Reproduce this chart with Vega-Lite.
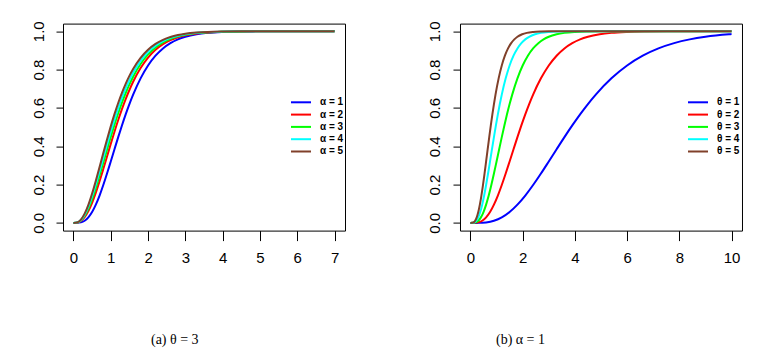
{
  "$schema": "https://vega.github.io/schema/vega-lite/v6.json",
  "background": "white",
  "padding": {"left": 12, "top": 19.6, "right": 0, "bottom": 0},
  "autosize": {"type": "pad"},
  "config": {
    "view": {"stroke": "#000", "strokeWidth": 1},
    "concat": {"spacing": 63},
    "axis": {"grid": false, "domain": false, "tickColor": "#000", "labelFont": "Liberation Sans", "labelFontSize": 15, "labelColor": "#000", "title": null, "labelBaseline": "alphabetic"},
    "axisX": {"tickSize": 10, "labelPadding": 22, "minExtent": 40, "maxExtent": 40},
    "axisY": {"tickSize": 7, "labelPadding": 13, "labelAngle": -90, "labelAlign": "center", "minExtent": 50, "maxExtent": 50, "format": ".1f"},
    "legend": {"orient": "none", "legendX": 233, "legendY": 73.7, "title": null, "symbolType": "M-2.5,0H2.5", "symbolSize": 64, "symbolStrokeWidth": 2, "labelFont": "Liberation Sans", "labelFontWeight": "bold", "labelFontSize": 10, "labelColor": "#000", "labelOffset": 14, "rowPadding": 2.3, "padding": 0},
    "title": {"orient": "bottom", "anchor": "start", "frame": "group", "font": "Liberation Serif", "fontSize": 14, "fontWeight": "normal", "color": "#000", "baseline": "alphabetic", "offset": 62}
  },
  "resolve": {"scale": {"color": "independent"}},
  "hconcat": [
    {
      "width": 282,
      "height": 207,
      "title": {"text": "(a)  θ = 3", "dx": 88},
      "data": {"values": [
        {"s":"α = 1","x":0,"y":0},{"s":"α = 1","x":0.1,"y":0.0003},{"s":"α = 1","x":0.2,"y":0.0028},{"s":"α = 1","x":0.3,"y":0.0114},{"s":"α = 1","x":0.4,"y":0.029},{"s":"α = 1","x":0.5,"y":0.0569},{"s":"α = 1","x":0.6,"y":0.0954},{"s":"α = 1","x":0.7,"y":0.1429},{"s":"α = 1","x":0.8,"y":0.1977},{"s":"α = 1","x":0.9,"y":0.2577},{"s":"α = 1","x":1.0,"y":0.3208},{"s":"α = 1","x":1.1,"y":0.3846},{"s":"α = 1","x":1.2,"y":0.4478},{"s":"α = 1","x":1.3,"y":0.5087},{"s":"α = 1","x":1.4,"y":0.5665},{"s":"α = 1","x":1.5,"y":0.6202},{"s":"α = 1","x":1.6,"y":0.6695},{"s":"α = 1","x":1.8,"y":0.7544},{"s":"α = 1","x":2.0,"y":0.8214},{"s":"α = 1","x":2.2,"y":0.8725},{"s":"α = 1","x":2.4,"y":0.9105},{"s":"α = 1","x":2.6,"y":0.938},{"s":"α = 1","x":2.8,"y":0.9576},{"s":"α = 1","x":3.0,"y":0.9713},{"s":"α = 1","x":3.3,"y":0.9843},{"s":"α = 1","x":3.6,"y":0.9916},{"s":"α = 1","x":4.0,"y":0.9964},{"s":"α = 1","x":4.5,"y":0.9988},{"s":"α = 1","x":5,"y":0.9996},{"s":"α = 1","x":6,"y":1},{"s":"α = 1","x":7,"y":1},
        {"s":"α = 2","x":0,"y":0},{"s":"α = 2","x":0.1,"y":0.0015},{"s":"α = 2","x":0.2,"y":0.0101},{"s":"α = 2","x":0.3,"y":0.0299},{"s":"α = 2","x":0.4,"y":0.0619},{"s":"α = 2","x":0.5,"y":0.1052},{"s":"α = 2","x":0.6,"y":0.1578},{"s":"α = 2","x":0.7,"y":0.2174},{"s":"α = 2","x":0.8,"y":0.2811},{"s":"α = 2","x":0.9,"y":0.3467},{"s":"α = 2","x":1.0,"y":0.4124},{"s":"α = 2","x":1.1,"y":0.4761},{"s":"α = 2","x":1.2,"y":0.5369},{"s":"α = 2","x":1.3,"y":0.5937},{"s":"α = 2","x":1.4,"y":0.6461},{"s":"α = 2","x":1.5,"y":0.6936},{"s":"α = 2","x":1.6,"y":0.7364},{"s":"α = 2","x":1.8,"y":0.8079},{"s":"α = 2","x":2.0,"y":0.8627},{"s":"α = 2","x":2.2,"y":0.9034},{"s":"α = 2","x":2.4,"y":0.933},{"s":"α = 2","x":2.6,"y":0.9541},{"s":"α = 2","x":2.8,"y":0.9689},{"s":"α = 2","x":3.0,"y":0.9792},{"s":"α = 2","x":3.3,"y":0.9887},{"s":"α = 2","x":3.6,"y":0.994},{"s":"α = 2","x":4.0,"y":0.9975},{"s":"α = 2","x":4.5,"y":0.9992},{"s":"α = 2","x":5,"y":0.9998},{"s":"α = 2","x":6,"y":1},{"s":"α = 2","x":7,"y":1},
        {"s":"α = 3","x":0,"y":0},{"s":"α = 3","x":0.1,"y":0.002},{"s":"α = 3","x":0.2,"y":0.013},{"s":"α = 3","x":0.3,"y":0.0373},{"s":"α = 3","x":0.4,"y":0.075},{"s":"α = 3","x":0.5,"y":0.1245},{"s":"α = 3","x":0.6,"y":0.1828},{"s":"α = 3","x":0.7,"y":0.2471},{"s":"α = 3","x":0.8,"y":0.3145},{"s":"α = 3","x":0.9,"y":0.3823},{"s":"α = 3","x":1.0,"y":0.449},{"s":"α = 3","x":1.1,"y":0.5127},{"s":"α = 3","x":1.2,"y":0.5725},{"s":"α = 3","x":1.3,"y":0.6276},{"s":"α = 3","x":1.4,"y":0.6779},{"s":"α = 3","x":1.5,"y":0.723},{"s":"α = 3","x":1.6,"y":0.7631},{"s":"α = 3","x":1.8,"y":0.8293},{"s":"α = 3","x":2.0,"y":0.8792},{"s":"α = 3","x":2.2,"y":0.9158},{"s":"α = 3","x":2.4,"y":0.942},{"s":"α = 3","x":2.6,"y":0.9605},{"s":"α = 3","x":2.8,"y":0.9734},{"s":"α = 3","x":3.0,"y":0.9823},{"s":"α = 3","x":3.3,"y":0.9905},{"s":"α = 3","x":3.6,"y":0.995},{"s":"α = 3","x":4.0,"y":0.9979},{"s":"α = 3","x":4.5,"y":0.9994},{"s":"α = 3","x":5,"y":0.9998},{"s":"α = 3","x":6,"y":1},{"s":"α = 3","x":7,"y":1},
        {"s":"α = 4","x":0,"y":0},{"s":"α = 4","x":0.1,"y":0.0023},{"s":"α = 4","x":0.2,"y":0.0152},{"s":"α = 4","x":0.3,"y":0.0429},{"s":"α = 4","x":0.4,"y":0.0848},{"s":"α = 4","x":0.5,"y":0.139},{"s":"α = 4","x":0.6,"y":0.2015},{"s":"α = 4","x":0.7,"y":0.2695},{"s":"α = 4","x":0.8,"y":0.3395},{"s":"α = 4","x":0.9,"y":0.409},{"s":"α = 4","x":1.0,"y":0.4764},{"s":"α = 4","x":1.1,"y":0.5402},{"s":"α = 4","x":1.2,"y":0.5992},{"s":"α = 4","x":1.3,"y":0.6531},{"s":"α = 4","x":1.4,"y":0.7017},{"s":"α = 4","x":1.5,"y":0.745},{"s":"α = 4","x":1.6,"y":0.7831},{"s":"α = 4","x":1.8,"y":0.8454},{"s":"α = 4","x":2.0,"y":0.8915},{"s":"α = 4","x":2.2,"y":0.925},{"s":"α = 4","x":2.4,"y":0.9488},{"s":"α = 4","x":2.6,"y":0.9654},{"s":"α = 4","x":2.8,"y":0.9768},{"s":"α = 4","x":3.0,"y":0.9846},{"s":"α = 4","x":3.3,"y":0.9918},{"s":"α = 4","x":3.6,"y":0.9957},{"s":"α = 4","x":4.0,"y":0.9982},{"s":"α = 4","x":4.5,"y":0.9995},{"s":"α = 4","x":5,"y":0.9999},{"s":"α = 4","x":6,"y":1},{"s":"α = 4","x":7,"y":1},
        {"s":"α = 5","x":0,"y":0},{"s":"α = 5","x":0.1,"y":0.0027},{"s":"α = 5","x":0.2,"y":0.0174},{"s":"α = 5","x":0.3,"y":0.0484},{"s":"α = 5","x":0.4,"y":0.0947},{"s":"α = 5","x":0.5,"y":0.1535},{"s":"α = 5","x":0.6,"y":0.2202},{"s":"α = 5","x":0.7,"y":0.2918},{"s":"α = 5","x":0.8,"y":0.3645},{"s":"α = 5","x":0.9,"y":0.4357},{"s":"α = 5","x":1.0,"y":0.5039},{"s":"α = 5","x":1.1,"y":0.5676},{"s":"α = 5","x":1.2,"y":0.6259},{"s":"α = 5","x":1.3,"y":0.6786},{"s":"α = 5","x":1.4,"y":0.7256},{"s":"α = 5","x":1.5,"y":0.767},{"s":"α = 5","x":1.6,"y":0.8032},{"s":"α = 5","x":1.8,"y":0.8614},{"s":"α = 5","x":2.0,"y":0.9039},{"s":"α = 5","x":2.2,"y":0.9343},{"s":"α = 5","x":2.4,"y":0.9555},{"s":"α = 5","x":2.6,"y":0.9702},{"s":"α = 5","x":2.8,"y":0.9802},{"s":"α = 5","x":3.0,"y":0.987},{"s":"α = 5","x":3.3,"y":0.9931},{"s":"α = 5","x":3.6,"y":0.9964},{"s":"α = 5","x":4.0,"y":0.9985},{"s":"α = 5","x":4.5,"y":0.9996},{"s":"α = 5","x":5,"y":0.9999},{"s":"α = 5","x":6,"y":1},{"s":"α = 5","x":7,"y":1}
      ]},
      "mark": {"type": "line", "strokeWidth": 2, "interpolate": "monotone"},
      "encoding": {
        "x": {"field": "x", "type": "quantitative", "scale": {"domain": [-0.28, 7.28], "nice": false, "zero": false}, "axis": {"values": [0, 1, 2, 3, 4, 5, 6, 7]}},
        "y": {"field": "y", "type": "quantitative", "scale": {"domain": [-0.04, 1.04], "nice": false, "zero": false}, "axis": {"values": [0, 0.2, 0.4, 0.6, 0.8, 1.0]}},
        "color": {"field": "s", "type": "nominal", "scale": {"domain": ["α = 1", "α = 2", "α = 3", "α = 4", "α = 5"], "range": ["#0000FF", "#FF0000", "#00FF00", "#00FFFF", "#80402A"]}}
      }
    },
    {
      "width": 282,
      "height": 207,
      "title": {"text": "(b)  α = 1", "dx": 36},
      "data": {"values": [
        {"s":"θ = 1","x":0,"y":0},{"s":"θ = 1","x":0.3,"y":0.0003},{"s":"θ = 1","x":0.6,"y":0.0028},{"s":"θ = 1","x":0.9,"y":0.0114},{"s":"θ = 1","x":1.2,"y":0.029},{"s":"θ = 1","x":1.5,"y":0.0569},{"s":"θ = 1","x":1.8,"y":0.0954},{"s":"θ = 1","x":2.1,"y":0.1429},{"s":"θ = 1","x":2.4,"y":0.1977},{"s":"θ = 1","x":2.7,"y":0.2577},{"s":"θ = 1","x":3.0,"y":0.3208},{"s":"θ = 1","x":3.3,"y":0.3846},{"s":"θ = 1","x":3.6,"y":0.4478},{"s":"θ = 1","x":3.9,"y":0.5087},{"s":"θ = 1","x":4.2,"y":0.5665},{"s":"θ = 1","x":4.5,"y":0.6202},{"s":"θ = 1","x":4.8,"y":0.6695},{"s":"θ = 1","x":5.4,"y":0.7544},{"s":"θ = 1","x":6.0,"y":0.8214},{"s":"θ = 1","x":6.6,"y":0.8725},{"s":"θ = 1","x":7.2,"y":0.9105},{"s":"θ = 1","x":7.8,"y":0.938},{"s":"θ = 1","x":8.4,"y":0.9576},{"s":"θ = 1","x":9.0,"y":0.9713},{"s":"θ = 1","x":9.9,"y":0.9843},{"s":"θ = 1","x":10,"y":0.9854},
        {"s":"θ = 2","x":0,"y":0},{"s":"θ = 2","x":0.15,"y":0.0003},{"s":"θ = 2","x":0.3,"y":0.0028},{"s":"θ = 2","x":0.45,"y":0.0114},{"s":"θ = 2","x":0.6,"y":0.029},{"s":"θ = 2","x":0.75,"y":0.0569},{"s":"θ = 2","x":0.9,"y":0.0954},{"s":"θ = 2","x":1.05,"y":0.1429},{"s":"θ = 2","x":1.2,"y":0.1977},{"s":"θ = 2","x":1.35,"y":0.2577},{"s":"θ = 2","x":1.5,"y":0.3208},{"s":"θ = 2","x":1.65,"y":0.3846},{"s":"θ = 2","x":1.8,"y":0.4478},{"s":"θ = 2","x":1.95,"y":0.5087},{"s":"θ = 2","x":2.1,"y":0.5665},{"s":"θ = 2","x":2.25,"y":0.6202},{"s":"θ = 2","x":2.4,"y":0.6695},{"s":"θ = 2","x":2.7,"y":0.7544},{"s":"θ = 2","x":3.0,"y":0.8214},{"s":"θ = 2","x":3.3,"y":0.8725},{"s":"θ = 2","x":3.6,"y":0.9105},{"s":"θ = 2","x":3.9,"y":0.938},{"s":"θ = 2","x":4.2,"y":0.9576},{"s":"θ = 2","x":4.5,"y":0.9713},{"s":"θ = 2","x":4.95,"y":0.9843},{"s":"θ = 2","x":5.4,"y":0.9916},{"s":"θ = 2","x":6.0,"y":0.9964},{"s":"θ = 2","x":6.75,"y":0.9988},{"s":"θ = 2","x":7.5,"y":0.9996},{"s":"θ = 2","x":9,"y":1},{"s":"θ = 2","x":10,"y":1},
        {"s":"θ = 3","x":0,"y":0},{"s":"θ = 3","x":0.1,"y":0.0003},{"s":"θ = 3","x":0.2,"y":0.0028},{"s":"θ = 3","x":0.3,"y":0.0114},{"s":"θ = 3","x":0.4,"y":0.029},{"s":"θ = 3","x":0.5,"y":0.0569},{"s":"θ = 3","x":0.6,"y":0.0954},{"s":"θ = 3","x":0.7,"y":0.1429},{"s":"θ = 3","x":0.8,"y":0.1977},{"s":"θ = 3","x":0.9,"y":0.2577},{"s":"θ = 3","x":1.0,"y":0.3208},{"s":"θ = 3","x":1.1,"y":0.3846},{"s":"θ = 3","x":1.2,"y":0.4478},{"s":"θ = 3","x":1.3,"y":0.5087},{"s":"θ = 3","x":1.4,"y":0.5665},{"s":"θ = 3","x":1.5,"y":0.6202},{"s":"θ = 3","x":1.6,"y":0.6695},{"s":"θ = 3","x":1.8,"y":0.7544},{"s":"θ = 3","x":2.0,"y":0.8214},{"s":"θ = 3","x":2.2,"y":0.8725},{"s":"θ = 3","x":2.4,"y":0.9105},{"s":"θ = 3","x":2.6,"y":0.938},{"s":"θ = 3","x":2.8,"y":0.9576},{"s":"θ = 3","x":3.0,"y":0.9713},{"s":"θ = 3","x":3.3,"y":0.9843},{"s":"θ = 3","x":3.6,"y":0.9916},{"s":"θ = 3","x":4.0,"y":0.9964},{"s":"θ = 3","x":4.5,"y":0.9988},{"s":"θ = 3","x":5,"y":0.9996},{"s":"θ = 3","x":6,"y":1},{"s":"θ = 3","x":10,"y":1},
        {"s":"θ = 4","x":0,"y":0},{"s":"θ = 4","x":0.075,"y":0.0003},{"s":"θ = 4","x":0.15,"y":0.0028},{"s":"θ = 4","x":0.225,"y":0.0114},{"s":"θ = 4","x":0.3,"y":0.029},{"s":"θ = 4","x":0.375,"y":0.0569},{"s":"θ = 4","x":0.45,"y":0.0954},{"s":"θ = 4","x":0.525,"y":0.1429},{"s":"θ = 4","x":0.6,"y":0.1977},{"s":"θ = 4","x":0.675,"y":0.2577},{"s":"θ = 4","x":0.75,"y":0.3208},{"s":"θ = 4","x":0.825,"y":0.3846},{"s":"θ = 4","x":0.9,"y":0.4478},{"s":"θ = 4","x":0.975,"y":0.5087},{"s":"θ = 4","x":1.05,"y":0.5665},{"s":"θ = 4","x":1.125,"y":0.6202},{"s":"θ = 4","x":1.2,"y":0.6695},{"s":"θ = 4","x":1.35,"y":0.7544},{"s":"θ = 4","x":1.5,"y":0.8214},{"s":"θ = 4","x":1.65,"y":0.8725},{"s":"θ = 4","x":1.8,"y":0.9105},{"s":"θ = 4","x":1.95,"y":0.938},{"s":"θ = 4","x":2.1,"y":0.9576},{"s":"θ = 4","x":2.25,"y":0.9713},{"s":"θ = 4","x":2.475,"y":0.9843},{"s":"θ = 4","x":2.7,"y":0.9916},{"s":"θ = 4","x":3.0,"y":0.9964},{"s":"θ = 4","x":3.375,"y":0.9988},{"s":"θ = 4","x":3.75,"y":0.9996},{"s":"θ = 4","x":4.5,"y":1},{"s":"θ = 4","x":10,"y":1},
        {"s":"θ = 5","x":0,"y":0},{"s":"θ = 5","x":0.06,"y":0.0003},{"s":"θ = 5","x":0.12,"y":0.0028},{"s":"θ = 5","x":0.18,"y":0.0114},{"s":"θ = 5","x":0.24,"y":0.029},{"s":"θ = 5","x":0.3,"y":0.0569},{"s":"θ = 5","x":0.36,"y":0.0954},{"s":"θ = 5","x":0.42,"y":0.1429},{"s":"θ = 5","x":0.48,"y":0.1977},{"s":"θ = 5","x":0.54,"y":0.2577},{"s":"θ = 5","x":0.6,"y":0.3208},{"s":"θ = 5","x":0.66,"y":0.3846},{"s":"θ = 5","x":0.72,"y":0.4478},{"s":"θ = 5","x":0.78,"y":0.5087},{"s":"θ = 5","x":0.84,"y":0.5665},{"s":"θ = 5","x":0.9,"y":0.6202},{"s":"θ = 5","x":0.96,"y":0.6695},{"s":"θ = 5","x":1.08,"y":0.7544},{"s":"θ = 5","x":1.2,"y":0.8214},{"s":"θ = 5","x":1.32,"y":0.8725},{"s":"θ = 5","x":1.44,"y":0.9105},{"s":"θ = 5","x":1.56,"y":0.938},{"s":"θ = 5","x":1.68,"y":0.9576},{"s":"θ = 5","x":1.8,"y":0.9713},{"s":"θ = 5","x":1.98,"y":0.9843},{"s":"θ = 5","x":2.16,"y":0.9916},{"s":"θ = 5","x":2.4,"y":0.9964},{"s":"θ = 5","x":2.7,"y":0.9988},{"s":"θ = 5","x":3.0,"y":0.9996},{"s":"θ = 5","x":3.6,"y":1},{"s":"θ = 5","x":10,"y":1}
      ]},
      "mark": {"type": "line", "strokeWidth": 2, "interpolate": "monotone"},
      "encoding": {
        "x": {"field": "x", "type": "quantitative", "scale": {"domain": [-0.4, 10.4], "nice": false, "zero": false}, "axis": {"values": [0, 2, 4, 6, 8, 10]}},
        "y": {"field": "y", "type": "quantitative", "scale": {"domain": [-0.04, 1.04], "nice": false, "zero": false}, "axis": {"values": [0, 0.2, 0.4, 0.6, 0.8, 1.0]}},
        "color": {"field": "s", "type": "nominal", "scale": {"domain": ["θ = 1", "θ = 2", "θ = 3", "θ = 4", "θ = 5"], "range": ["#0000FF", "#FF0000", "#00FF00", "#00FFFF", "#80402A"]}}
      }
    }
  ]
}
